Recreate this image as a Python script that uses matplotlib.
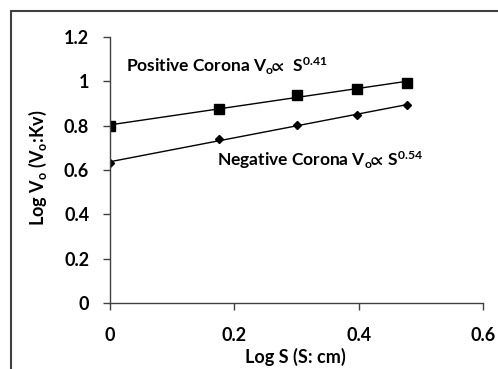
import numpy as np
import matplotlib
matplotlib.use("Agg")
from matplotlib import pyplot as plt
from matplotlib.patches import Rectangle

# spacing S in cm, plotted as log S
spacing_cm = [1.0, 1.5, 2.0, 2.5, 3.0]
log_s = np.log10(spacing_cm)

# log of onset voltage (kV)
log_v_positive = [0.800, 0.876, 0.938, 0.967, 0.994]
log_v_negative = [0.633, 0.738, 0.803, 0.849, 0.893]

x_ticks = [0, 0.2, 0.4, 0.6]
y_ticks = [0, 0.2, 0.4, 0.6, 0.8, 1, 1.2]

plt.rcParams['font.family'] = ['Lato', 'DejaVu Sans']
plt.rcParams['font.weight'] = 'bold'
plt.rcParams['mathtext.fontset'] = 'custom'
plt.rcParams['mathtext.rm'] = 'Lato:bold'
plt.rcParams['mathtext.default'] = 'regular'
plt.rcParams['mathtext.fallback'] = 'stixsans'

W, H = 498, 369
fig = plt.figure(figsize=(W/100, H/100), dpi=100)
ax = fig.add_axes([110/W, 1 - 303/H, 373/W, 266/H])

# trend lines (linear fit in log-log)
for yv in (log_v_positive, log_v_negative):
    k, b = np.polyfit(log_s, yv, 1)
    ax.plot(log_s, k*log_s + b, color='black', lw=1)

ax.plot(log_s, log_v_positive, ls='none', marker='s', ms=7.5, color='black')
ax.plot(log_s, log_v_negative, ls='none', marker='D', ms=4.5, color='black')

ax.set_xlim(0, 0.6)
ax.set_ylim(0, 1.2)
ax.set_xticks(x_ticks)
ax.set_xticklabels(['0', '0.2', '0.4', '0.6'])
ax.set_yticks(y_ticks)
ax.set_yticklabels(['0', '0.2', '0.4', '0.6', '0.8', '1', '1.2'])
ax.tick_params(labelsize=13, length=5, width=1, colors='#404040', labelcolor='black')
ax.xaxis.set_tick_params(pad=12)
ax.yaxis.set_tick_params(pad=10)
for side in ('top', 'right'):
    ax.spines[side].set_visible(False)
for side in ('left', 'bottom'):
    ax.spines[side].set_color('#404040')
    ax.spines[side].set_linewidth(1)

ax.text(126/W, 1 - 72/H, r'Positive Corona V$_o\!\!\propto\!$  S$^{0.41}$',
        transform=fig.transFigure, fontsize=12.5, fontweight='bold',
        va='baseline', ha='left')
ax.text(217/W, 1 - 166/H, r'Negative Corona V$_o\!\!\propto\!$ S$^{0.54}$',
        transform=fig.transFigure, fontsize=12.5, fontweight='bold',
        va='baseline', ha='left')

xlab = fig.text(295/W, 1 - 357/H, 'Log S (S: cm)', fontsize=13,
                fontweight='bold', ha='center', va='center')
ylab = fig.text(38/W, 1 - 168/H, 'Log V$_o$ (V$_o$:Kv)', fontsize=13,
                fontweight='bold', ha='center', va='center', rotation=90)

# nudge the axis titles so their ink boxes are centred where they sit in the picture
fig.canvas.draw()
for t, cx, cy in ((xlab, 295, H - 357), (ylab, 38, H - 168)):
    bb = t.get_window_extent()
    x0, y0 = t.get_position()
    t.set_position((x0 + (cx - (bb.x0 + bb.x1)/2)/W, y0 + (cy - (bb.y0 + bb.y1)/2)/H))

# chart area border (runs off right and bottom edges)
fig.add_artist(Rectangle((11/W, -0.1), 1.2, 1.1 - 11/H, fill=False,
                         edgecolor='#404040', lw=1.5, transform=fig.transFigure))

fig.savefig('out.png', dpi=100)
